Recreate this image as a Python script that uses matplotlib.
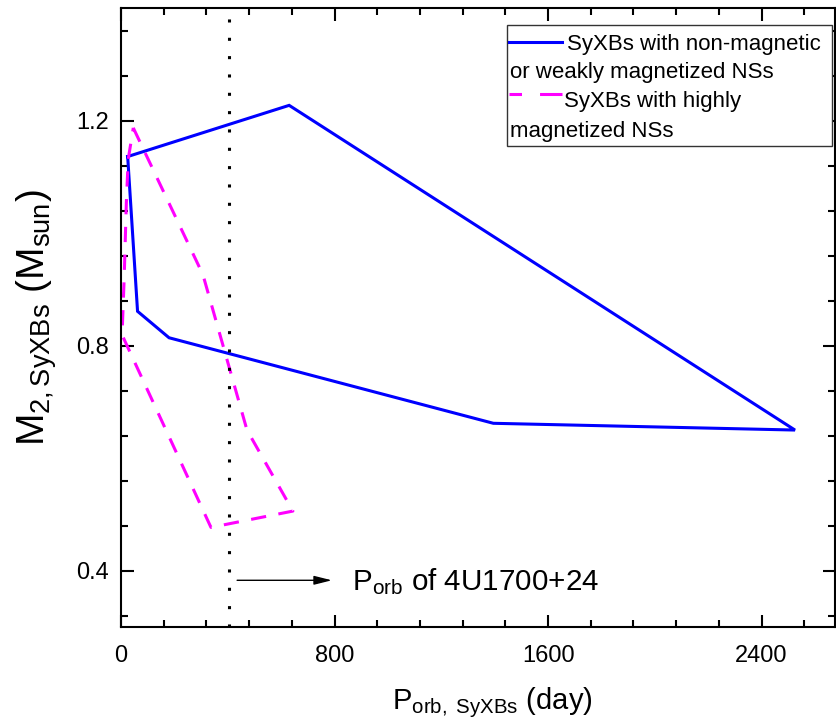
import matplotlib
matplotlib.use("Agg")
import matplotlib.pyplot as plt
from matplotlib.lines import Line2D
from matplotlib.patches import Rectangle
from matplotlib.ticker import MultipleLocator

plt.rcParams['font.family'] = ['Liberation Sans', 'DejaVu Sans']
plt.rcParams['mathtext.fontset'] = 'custom'
plt.rcParams['mathtext.rm'] = 'Liberation Sans'
plt.rcParams['mathtext.it'] = 'Liberation Sans:italic'
plt.rcParams['lines.scale_dashes'] = False

# region of SyXBs with non-magnetic or weakly magnetized NSs (closed outline)
weak_porb = [25, 630, 2525, 1395, 180, 62, 25]
weak_m2 = [1.136, 1.227, 0.650, 0.662, 0.814, 0.861, 1.136]

# region of SyXBs with highly magnetized NSs (closed outline)
high_porb = [46, 307, 472, 644, 337, 4, 12, 20, 27, 46]
high_m2 = [1.187, 0.926, 0.650, 0.506, 0.477, 0.819, 0.922, 1.054, 1.131, 1.187]

# orbital period of 4U1700+24 (day)
porb_4u1700 = 404

fig = plt.figure(figsize=(8.36, 7.28), dpi=100)
ax = fig.add_axes([121 / 836, 1 - 627 / 728, 714 / 836, 619 / 728])

ax.plot(weak_porb, weak_m2, color='#0000ff', lw=2.2, solid_joinstyle='miter')
ax.plot(high_porb, high_m2, color='#ff00ff', lw=2.2, dashes=(11, 9))
ax.axvline(porb_4u1700, color='black', lw=2.2, dashes=(2.2, 11))

# arrow + note
ax.annotate('', xy=(790, 0.383), xytext=(435, 0.383),
            arrowprops=dict(arrowstyle='-|>,head_length=0.6,head_width=0.15',
                            color='black', lw=1, mutation_scale=18,
                            shrinkA=0, shrinkB=0))
ax.text(866, 0.365, r'$\mathrm{P_{orb}}$ of 4U1700+24', fontsize=21.3, va='baseline')

ax.set_xlim(0, 2675)
ax.set_ylim(0.3, 1.4)
ax.xaxis.set_major_locator(MultipleLocator(800))
ax.xaxis.set_minor_locator(MultipleLocator(160))
ax.yaxis.set_major_locator(MultipleLocator(0.4))
ax.yaxis.set_minor_locator(MultipleLocator(0.08))
ax.tick_params(which='both', direction='in', top=True, right=True, width=1.5, labelsize=17)
ax.tick_params(which='major', length=9)
ax.tick_params(which='minor', length=5)
ax.tick_params(axis='x', pad=13)
ax.tick_params(axis='y', pad=9)
for s in ax.spines.values():
    s.set_linewidth(1.5)

ax.set_xlabel(r'$\mathrm{P_{orb,\ SyXBs}}$ (day)', fontsize=21, labelpad=13, x=0.52)
ax.set_ylabel(r'$\mathrm{M_{2,SyXBs}}$ ($\mathrm{M_{sun}}$)', fontsize=28, labelpad=12)

# legend drawn by hand so the labels wrap like the original
tr = ax.transAxes
ax.add_patch(Rectangle((0.5406, 0.777), 0.4552, 0.1955, transform=tr,
                       facecolor='white', edgecolor='#333333', lw=1, zorder=5))
ax.add_line(Line2D([0.5434, 0.6176], [0.9455, 0.9455], transform=tr,
                   color='#0000ff', lw=2.2, zorder=6))
ax.add_line(Line2D([0.5434, 0.6176], [0.8615, 0.8615], transform=tr,
                   color='#ff00ff', lw=2.2, dashes=(9, 13, 17, 13), zorder=6))
leg_fs = 16
ax.text(0.6246, 0.9322, 'SyXBs with non-magnetic', transform=tr, fontsize=leg_fs, va='baseline', zorder=6)
ax.text(0.5448, 0.8864, 'or weakly magnetized NSs', transform=tr, fontsize=leg_fs, va='baseline', zorder=6)
ax.text(0.6200, 0.8406, 'SyXBs with highly', transform=tr, fontsize=leg_fs, va='baseline', zorder=6)
ax.text(0.5448, 0.7921, 'magnetized NSs', transform=tr, fontsize=leg_fs, va='baseline', zorder=6)

fig.savefig('out.png', dpi=100)
